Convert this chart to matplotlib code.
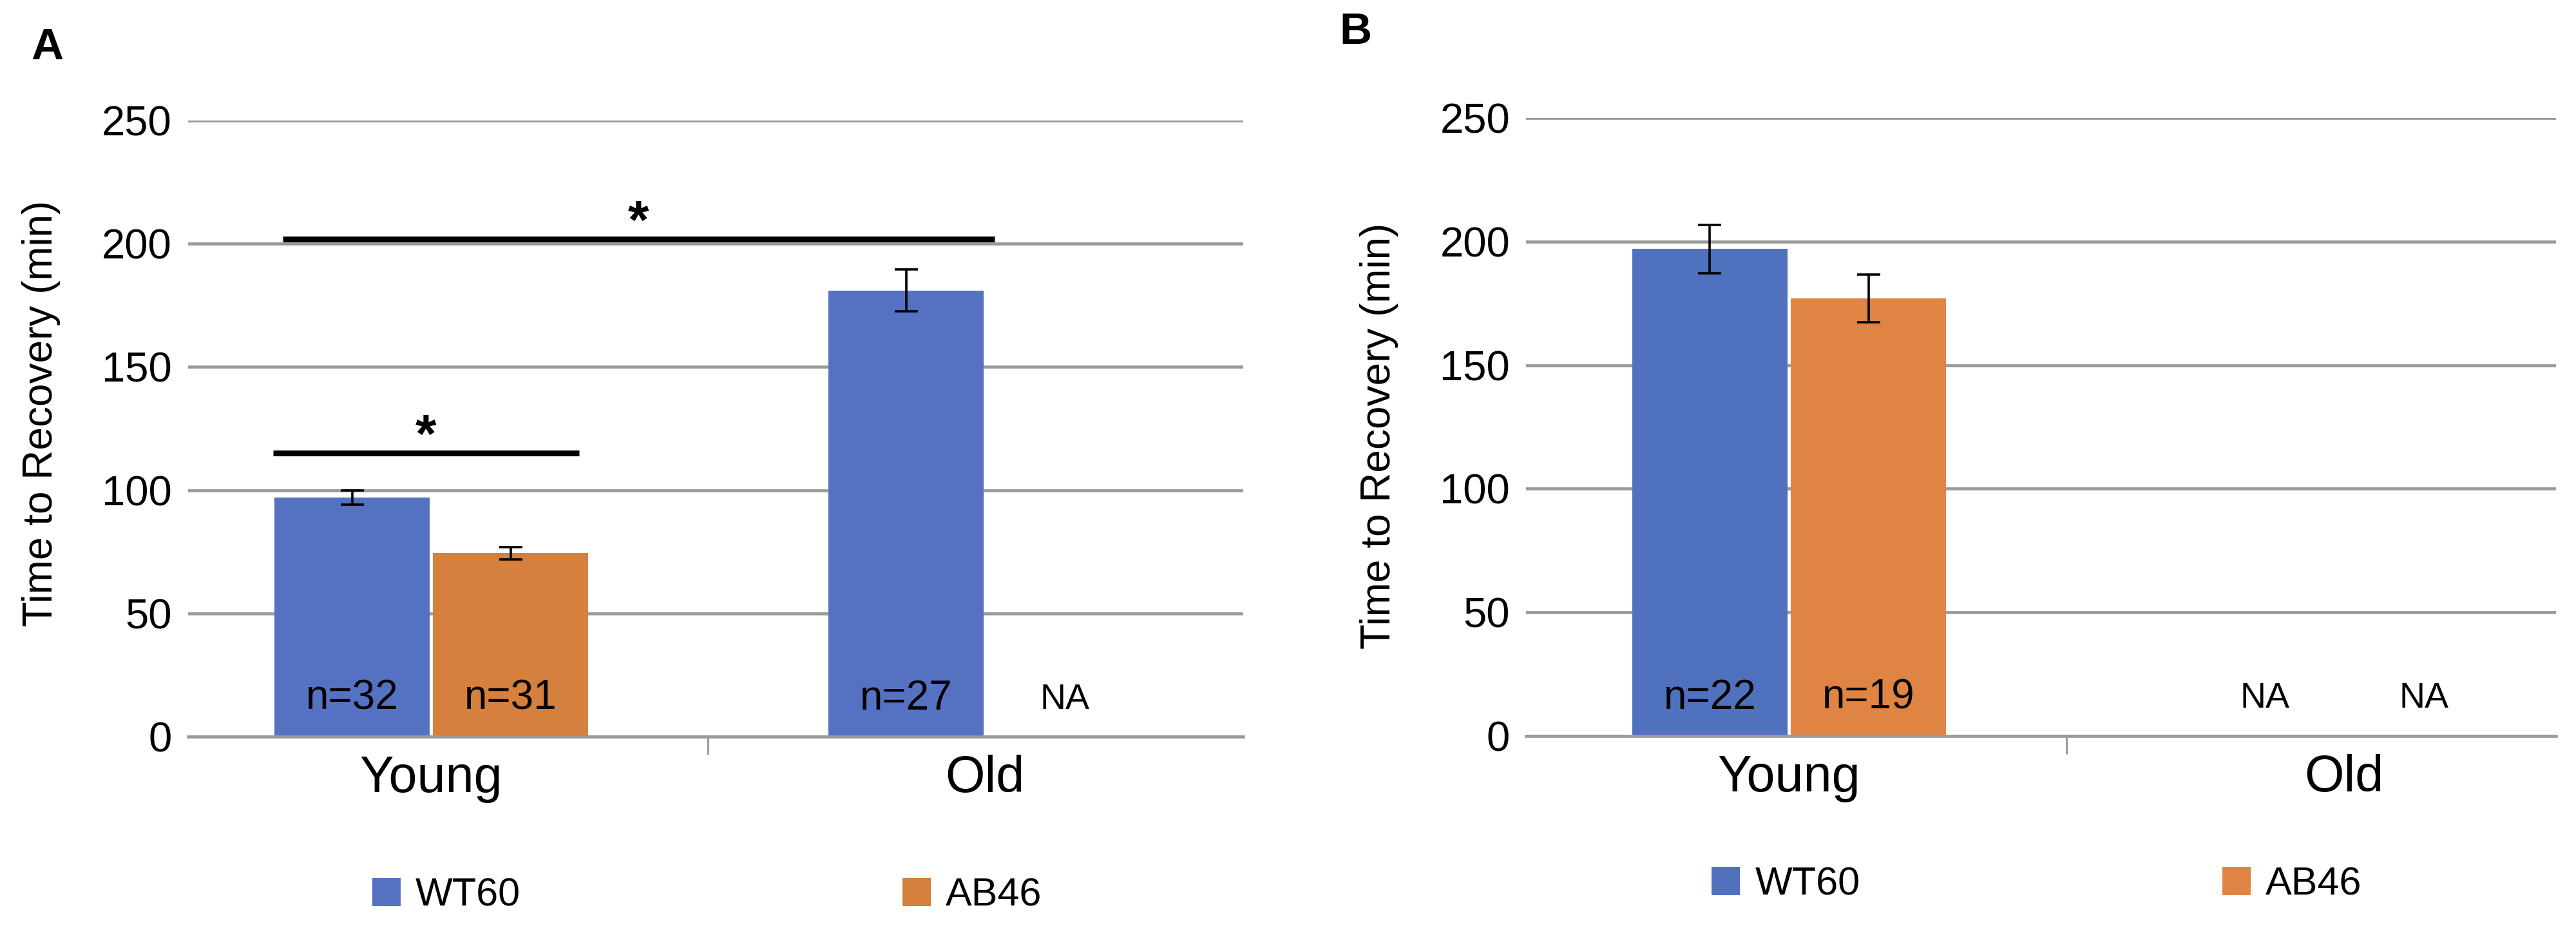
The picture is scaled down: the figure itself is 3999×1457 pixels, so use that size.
import matplotlib
matplotlib.use("Agg")
import matplotlib.pyplot as plt
import numpy as np

plt.rcParams['font.family'] = ['Liberation Sans', 'DejaVu Sans']

# Data
groups = ["Young", "Old"]
strains = ["WT60", "AB46"]

a_means = {"WT60": [97, 181], "AB46": [74.5, np.nan]}
a_errs = {"WT60": [2.8, 8.5], "AB46": [2.5, np.nan]}
a_ns = {"WT60": ["n=32", "n=27"], "AB46": ["n=31", "NA"]}

b_means = {"WT60": [197, np.nan], "AB46": [177, np.nan]}
b_errs = {"WT60": [9.7, np.nan], "AB46": [9.7, np.nan]}
b_ns = {"WT60": ["n=22", "NA"], "AB46": ["n=19", "NA"]}

# significance bars in panel A: (x_start, x_end, height)
a_sig = [(-0.285, 0.268, 115), (-0.267, 1.017, 202)]

yticks = [0, 50, 100, 150, 200, 250]

grid_col = "#9a9a9a"
bar_w = 0.28
offs = {"WT60": -0.142, "AB46": 0.144}


def draw_panel(ax, means, errs, ns, colors, xlim, letter, letter_xy, lab_xy, leg_xy, colsp):
    x = np.arange(len(groups))
    for s in strains:
        pos = x + offs[s]
        m = np.array(means[s], dtype=float)
        e = np.array(errs[s], dtype=float)
        ok = ~np.isnan(m)
        ax.bar(pos[ok], m[ok], bar_w, color=colors[s], label=s, zorder=2)
        ax.errorbar(pos[ok], m[ok], yerr=e[ok], fmt="none", ecolor="black",
                    elinewidth=2.6, capsize=13, capthick=2.6, zorder=3)
        for p, txt in zip(pos, ns[s]):
            if txt == "NA":
                ax.text(p, 15, txt, ha="center", va="center", fontsize=40, zorder=4)
            else:
                ax.text(p, 15.5, txt, ha="center", va="center", fontsize=46, zorder=4)

    ax.set_ylim(0, 250)
    ax.set_xlim(*xlim)
    ax.set_yticks(yticks)
    ax.set_xticks(x)
    ax.set_xticklabels(groups, fontsize=57)
    ax.set_xticks([0.5], minor=True)
    ax.tick_params(axis="y", length=0, pad=18, labelsize=47)
    ax.tick_params(axis="x", which="major", length=0, pad=20)
    ax.tick_params(axis="x", which="minor", length=20, width=2.2, color=grid_col)
    ax.yaxis.grid(True, color=grid_col, linewidth=3.4)
    ax.set_axisbelow(True)
    for sp in ["top", "right", "left"]:
        ax.spines[sp].set_visible(False)
    ax.spines["bottom"].set_color(grid_col)
    ax.spines["bottom"].set_linewidth(3.4)

    ax.set_ylabel("Time to Recovery (min)", fontsize=46)
    ax.yaxis.set_label_coords(*lab_xy)

    ax.legend(loc="center", bbox_to_anchor=leg_xy, ncol=2, frameon=False,
              fontsize=44, handlelength=0.72, handleheight=0.72,
              handletextpad=0.38, columnspacing=colsp)
    ax.text(letter_xy[0], letter_xy[1], letter, transform=ax.figure.transFigure,
            fontsize=50, fontweight="bold", ha="left", va="center")


fig = plt.figure(figsize=(39.99, 14.57), dpi=100)

axA = fig.add_axes([0.0730, 0.2155, 0.4096, 0.6562])
draw_panel(axA, a_means, a_errs, a_ns,
           {"WT60": "#5572c2", "AB46": "#d5803c"},
           (-0.438, 1.466), "A", (0.012, 0.949), (-0.121, 0.525), (0.492, -0.258), 9.7)

for x0, x1, h in a_sig:
    axA.plot([x0, x1], [h, h], color="black", linewidth=6.5, solid_capstyle="butt",
             clip_on=False, zorder=5)
    axA.text((x0 + x1) / 2, h + 6, "*", ha="center", va="center", fontsize=60,
             fontweight="bold", zorder=5)

axB = fig.add_axes([0.5924, 0.2162, 0.3998, 0.6582])
draw_panel(axB, b_means, b_errs, b_ns,
           {"WT60": "#4f71be", "AB46": "#e08443"},
           (-0.473, 1.382), "B", (0.520, 0.966), (-0.124, 0.486), (0.496, -0.241), 9.2)

fig.savefig("out.png", dpi=100, facecolor="white")
